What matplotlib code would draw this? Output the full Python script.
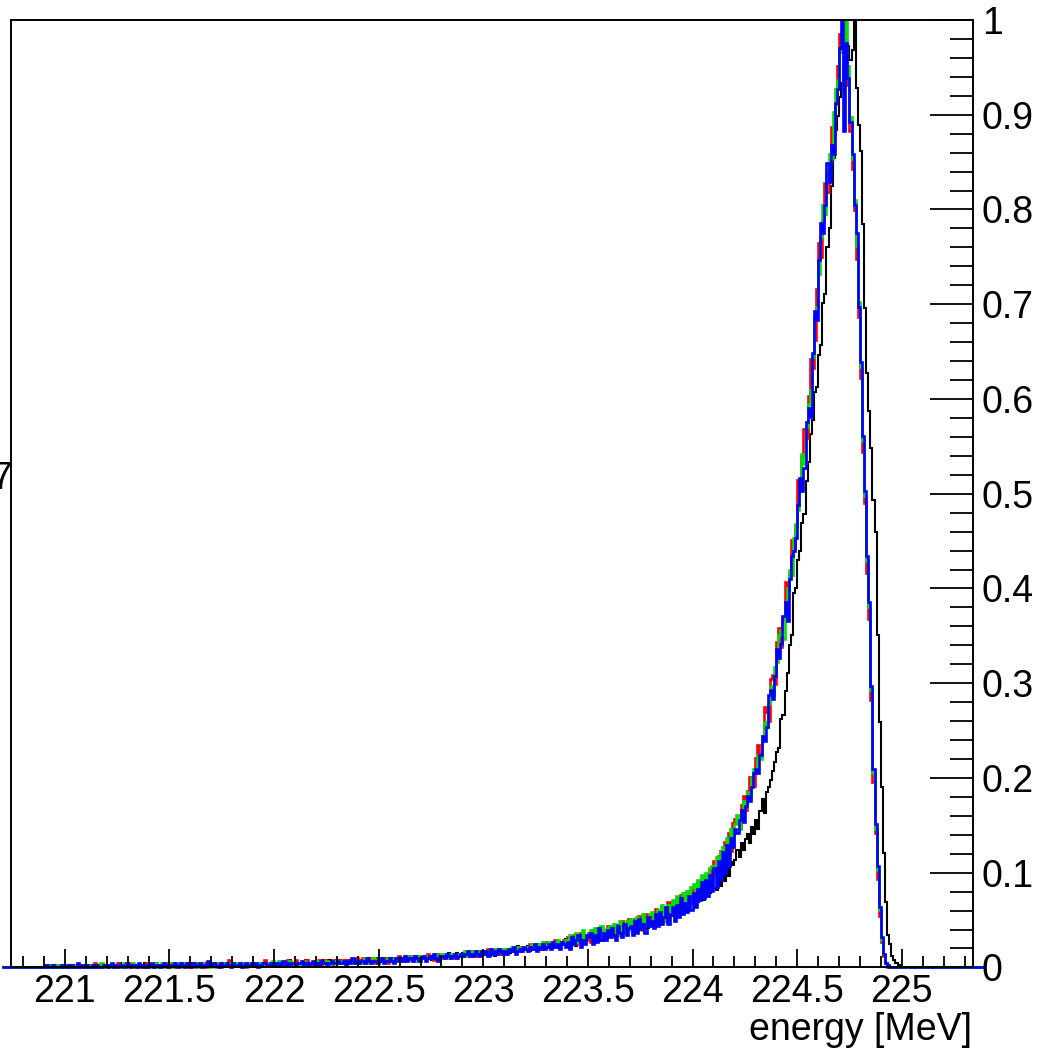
import numpy as np
import matplotlib
matplotlib.use("Agg")
import matplotlib.pyplot as plt
from matplotlib.ticker import MultipleLocator, FuncFormatter

plt.rcParams['font.family'] = ['Liberation Sans', 'DejaVu Sans']

# Histogram binning: 0.01 MeV bins, first filled bin starts at 220.90 MeV
bin_width = 0.01
first_edge = 220.90
hist_lo, hist_hi = 220.70, 225.40

# Raw bin counts per run (410 bins from 220.90 to 225.00 MeV)
counts_black = [
    0, 0, 1, 0, 0, 1, 0, 0, 0, 1,
    0, 0, 1, 0, 1, 0, 0, 1, 0, 0,
    1, 0, 1, 0, 0, 1, 0, 1, 0, 1,
    1, 0, 0, 1, 1, 0, 2, 0, 1, 0,
    0, 1, 1, 0, 1, 1, 0, 1, 2, 0,
    1, 0, 1, 2, 0, 1, 1, 0, 1, 1,
    2, 1, 0, 1, 1, 2, 0, 1, 1, 2,
    1, 0, 2, 1, 1, 0, 2, 1, 1, 1,
    0, 1, 2, 1, 1, 2, 0, 1, 2, 1,
    1, 2, 1, 0, 2, 1, 1, 2, 1, 1,
    2, 1, 1, 2, 1, 0, 2, 1, 2, 1,
    1, 2, 1, 2, 2, 1, 1, 3, 1, 2,
    2, 1, 2, 1, 2, 3, 1, 2, 2, 1,
    2, 2, 1, 3, 2, 2, 3, 1, 2, 3,
    2, 3, 2, 2, 3, 2, 3, 2, 3, 3,
    3, 2, 3, 3, 2, 4, 3, 3, 2, 4,
    3, 3, 4, 2, 4, 3, 3, 4, 3, 4,
    4, 3, 3, 5, 4, 3, 4, 5, 4, 4,
    4, 5, 4, 4, 5, 3, 5, 5, 4, 5,
    5, 4, 5, 6, 4, 5, 5, 6, 5, 5,
    6, 5, 6, 5, 7, 6, 5, 6, 7, 6,
    6, 7, 6, 6, 7, 5, 8, 7, 6, 7,
    7, 8, 6, 7, 8, 7, 9, 7, 8, 8,
    8, 9, 7, 8, 9, 8, 10, 9, 8, 10,
    9, 10, 9, 10, 11, 9, 10, 11, 10, 12,
    10, 12, 13, 10, 9, 13, 14, 10, 12, 14,
    12, 14, 15, 11, 13, 16, 12, 14, 16, 13,
    16, 13, 17, 14, 18, 16, 14, 18, 15, 19,
    17, 19, 15, 20, 18, 16, 21, 19, 17, 22,
    21, 18, 22, 19, 23, 20, 24, 22, 20, 25,
    22, 26, 23, 27, 24, 28, 25, 29, 26, 30,
    27, 31, 28, 33, 30, 29, 34, 36, 32, 37,
    34, 33, 38, 35, 40, 37, 42, 39, 45, 44,
    46, 50, 47, 53, 50, 55, 57, 53, 60, 57,
    63, 59, 67, 72, 66, 75, 77, 80, 84, 88,
    92, 94, 106, 108, 118, 126, 138, 142, 160, 162,
    174, 178, 190, 194, 208, 216, 228, 234, 246, 248,
    262, 266, 284, 288, 308, 316, 334, 346, 358, 364,
    372, 378, 386, 383, 394, 388, 392, 405, 376, 360,
    349, 318, 282, 254, 238, 222, 200, 186, 142, 105,
    77, 49, 28, 14, 10, 5, 3, 2, 1, 0,
]

counts_red = [
    1, 0, 0, 1, 0, 0, 1, 0, 0, 0,
    1, 0, 0, 0, 1, 0, 1, 0, 0, 1,
    0, 1, 0, 0, 2, 0, 1, 0, 0, 1,
    1, 0, 1, 0, 0, 2, 1, 0, 1, 1,
    0, 2, 1, 0, 1, 0, 1, 1, 0, 2,
    1, 1, 0, 2, 1, 1, 0, 1, 2, 1,
    0, 2, 1, 1, 0, 1, 2, 1, 1, 0,
    2, 1, 0, 2, 1, 1, 2, 0, 1, 2,
    1, 1, 2, 1, 0, 2, 1, 1, 3, 1,
    1, 2, 1, 1, 2, 1, 0, 2, 1, 2,
    2, 1, 2, 1, 1, 3, 1, 2, 1, 1,
    1, 2, 2, 1, 2, 2, 3, 1, 2, 1,
    3, 1, 2, 2, 1, 3, 2, 2, 1, 2,
    2, 3, 1, 2, 3, 2, 2, 1, 3, 2,
    2, 3, 3, 2, 3, 2, 3, 3, 2, 4,
    3, 2, 4, 3, 2, 3, 4, 2, 3, 3,
    4, 3, 3, 4, 2, 3, 4, 3, 3, 5,
    3, 4, 4, 3, 5, 3, 4, 4, 5, 4,
    5, 4, 4, 6, 4, 5, 3, 5, 6, 4,
    4, 6, 5, 4, 6, 5, 4, 6, 5, 5,
    6, 5, 6, 7, 5, 7, 6, 5, 7, 6,
    7, 6, 8, 6, 7, 6, 8, 7, 6, 8,
    6, 8, 7, 8, 7, 9, 8, 7, 9, 8,
    9, 8, 10, 8, 9, 10, 8, 10, 9, 11,
    10, 9, 11, 10, 12, 9, 11, 10, 12, 11,
    13, 9, 11, 14, 10, 12, 15, 11, 14, 12,
    15, 11, 16, 13, 15, 17, 12, 16, 13, 18,
    16, 18, 13, 18, 15, 14, 20, 15, 18, 21,
    19, 15, 21, 16, 22, 18, 16, 23, 19, 21,
    23, 19, 25, 20, 19, 26, 22, 20, 28, 23,
    27, 22, 30, 24, 31, 25, 32, 26, 33, 29,
    34, 30, 37, 31, 38, 35, 40, 36, 42, 38,
    46, 40, 48, 50, 44, 54, 47, 58, 50, 62,
    64, 62, 60, 70, 74, 68, 76, 82, 80, 78,
    90, 96, 92, 98, 112, 110, 106, 124, 126, 122,
    140, 146, 138, 150, 166, 162, 170, 184, 180, 190,
    210, 206, 220, 232, 228, 246, 262, 258, 270, 292,
    312, 306, 322, 338, 334, 346, 362, 358, 372, 388,
    402, 394, 408, 386, 380, 360, 344, 326, 305, 280,
    254, 222, 200, 170, 150, 115, 80, 58, 38, 22,
    11, 5, 2, 0, 0, 0, 0, 0, 0, 0,
]

counts_green = [
    0, 0, 1, 0, 0, 0, 1, 0, 1, 0,
    1, 0, 0, 1, 0, 1, 0, 0, 1, 0,
    0, 0, 1, 1, 0, 0, 1, 2, 0, 0,
    1, 1, 0, 0, 1, 1, 0, 1, 2, 0,
    1, 0, 2, 1, 0, 1, 1, 0, 1, 1,
    0, 1, 1, 2, 0, 1, 2, 1, 0, 1,
    2, 0, 1, 1, 2, 1, 0, 2, 1, 1,
    1, 1, 2, 0, 1, 2, 1, 1, 2, 0,
    2, 1, 0, 2, 1, 1, 2, 1, 1, 2,
    1, 1, 2, 1, 2, 0, 1, 2, 2, 1,
    1, 2, 1, 2, 1, 2, 2, 1, 1, 3,
    2, 1, 3, 2, 1, 2, 1, 3, 2, 1,
    2, 2, 1, 2, 3, 1, 2, 2, 2, 3,
    1, 3, 2, 2, 2, 3, 1, 2, 3, 2,
    3, 2, 3, 2, 3, 3, 2, 3, 2, 3,
    3, 3, 2, 4, 3, 2, 3, 4, 3, 3,
    3, 4, 3, 3, 4, 3, 4, 3, 4, 3,
    4, 4, 3, 5, 4, 4, 5, 3, 4, 5,
    4, 5, 5, 4, 5, 5, 4, 6, 4, 5,
    6, 5, 5, 4, 6, 6, 5, 5, 6, 5,
    6, 7, 5, 6, 7, 6, 6, 7, 6, 7,
    7, 6, 7, 7, 6, 8, 7, 7, 8, 7,
    8, 7, 8, 9, 7, 8, 9, 8, 8, 9,
    9, 8, 9, 10, 9, 8, 10, 9, 11, 9,
    10, 11, 10, 9, 11, 12, 10, 11, 10, 12,
    12, 14, 10, 12, 15, 11, 13, 16, 11, 14,
    14, 16, 12, 17, 13, 12, 18, 13, 16, 17,
    18, 14, 19, 15, 14, 20, 16, 15, 20, 16,
    21, 16, 19, 22, 17, 20, 23, 18, 21, 23,
    24, 20, 22, 25, 21, 27, 20, 25, 27, 23,
    29, 24, 31, 25, 29, 32, 27, 33, 28, 35,
    36, 30, 38, 32, 40, 34, 41, 35, 43, 44,
    44, 48, 41, 50, 52, 45, 56, 49, 60, 52,
    62, 66, 60, 64, 72, 70, 76, 74, 82, 86,
    86, 92, 90, 100, 106, 104, 114, 122, 118, 130,
    132, 144, 146, 142, 156, 164, 172, 170, 186, 192,
    198, 206, 222, 218, 234, 244, 250, 264, 282, 286,
    300, 316, 330, 326, 344, 352, 350, 370, 380, 384,
    396, 404, 382, 410, 390, 368, 350, 332, 312, 288,
    260, 228, 204, 176, 156, 120, 84, 60, 42, 25,
    12, 6, 2, 1, 0, 0, 0, 0, 0, 0,
]

counts_blue = [
    0, 1, 0, 0, 1, 0, 0, 0, 1, 0,
    0, 1, 0, 1, 0, 0, 2, 0, 1, 0,
    1, 0, 0, 1, 0, 1, 0, 0, 1, 1,
    0, 1, 2, 0, 1, 0, 1, 1, 0, 2,
    1, 0, 1, 1, 0, 2, 1, 0, 1, 0,
    1, 2, 0, 1, 1, 0, 1, 2, 1, 0,
    1, 1, 2, 0, 1, 2, 1, 0, 2, 1,
    0, 2, 1, 1, 2, 0, 1, 1, 3, 1,
    1, 2, 1, 0, 2, 1, 1, 2, 1, 0,
    2, 1, 1, 2, 0, 1, 2, 1, 1, 2,
    1, 2, 0, 1, 2, 2, 1, 1, 2, 1,
    2, 1, 2, 1, 3, 1, 2, 1, 2, 2,
    1, 2, 2, 3, 1, 2, 1, 2, 3, 1,
    2, 1, 3, 2, 2, 1, 2, 3, 2, 2,
    3, 2, 2, 3, 1, 3, 2, 4, 2, 3,
    2, 3, 3, 2, 4, 3, 2, 3, 3, 2,
    3, 4, 2, 3, 3, 4, 3, 2, 4, 3,
    4, 3, 5, 3, 4, 4, 3, 5, 4, 3,
    4, 5, 3, 4, 5, 4, 6, 4, 3, 5,
    5, 4, 6, 5, 4, 5, 6, 4, 5, 6,
    5, 6, 7, 5, 6, 5, 7, 6, 5, 7,
    6, 7, 5, 8, 6, 7, 6, 8, 7, 6,
    7, 6, 8, 7, 9, 6, 7, 8, 7, 9,
    8, 7, 9, 8, 10, 7, 9, 8, 10, 8,
    9, 10, 8, 11, 9, 10, 8, 11, 10, 9,
    11, 8, 13, 10, 12, 14, 9, 12, 10, 14,
    13, 15, 10, 14, 11, 17, 12, 15, 12, 16,
    13, 17, 14, 12, 18, 15, 13, 19, 14, 17,
    18, 14, 20, 15, 21, 17, 19, 15, 22, 18,
    20, 17, 23, 18, 24, 19, 22, 26, 19, 23,
    26, 20, 27, 22, 30, 23, 28, 24, 31, 25,
    32, 26, 34, 29, 37, 30, 38, 31, 40, 33,
    43, 35, 46, 38, 50, 41, 53, 44, 56, 52,
    60, 58, 64, 68, 63, 70, 74, 72, 78, 84,
    86, 84, 92, 100, 98, 104, 118, 120, 116, 126,
    138, 134, 140, 152, 158, 150, 168, 178, 180, 186,
    200, 212, 206, 216, 236, 242, 238, 266, 284, 280,
    306, 322, 318, 330, 348, 340, 356, 352, 374, 380,
    398, 410, 362, 400, 385, 366, 352, 330, 318, 286,
    262, 230, 206, 178, 158, 122, 86, 62, 44, 26,
    13, 6, 2, 1, 0, 0, 0, 0, 0, 0,
]

series = [
    (counts_black, "black", 1.5),
    (counts_red, "#ff0000", 1.9),
    (counts_green, "#00e000", 1.9),
    (counts_blue, "#0000ff", 1.9),
]

x_major = [221, 221.5, 222, 222.5, 223, 223.5, 224, 224.5, 225]
y_major = [0, 0.1, 0.2, 0.3, 0.4, 0.5, 0.6, 0.7, 0.8, 0.9, 1]

fig = plt.figure(figsize=(10.45, 10.51), dpi=100)
ax = fig.add_axes([0.011, 0.0795, 0.92, 0.9015])

n_left = int(round((first_edge - hist_lo) / bin_width))
for counts, color, lw in series:
    c = np.asarray(counts, dtype=float)
    n_right = int(round((hist_hi - first_edge) / bin_width)) - len(c)
    full = np.concatenate([np.zeros(n_left), c, np.zeros(n_right)])
    full = full / full.max()
    edges = hist_lo + bin_width * np.arange(len(full) + 1)
    ax.stairs(full, edges, color=color, linewidth=lw, baseline=0,
              clip_on=False)

ax.set_xlim(220.745, 225.34)
ax.set_ylim(0, 1)

for sp in ax.spines.values():
    sp.set_linewidth(1.4)
    sp.set_color("black")

ax.xaxis.set_major_locator(plt.FixedLocator(x_major))
ax.xaxis.set_minor_locator(MultipleLocator(0.1))
ax.yaxis.set_major_locator(plt.FixedLocator(y_major))
ax.yaxis.set_minor_locator(MultipleLocator(0.02))
fmt = FuncFormatter(lambda v, p: "%g" % v)
ax.xaxis.set_major_formatter(fmt)
ax.yaxis.set_major_formatter(fmt)

ax.tick_params(axis="x", which="both", direction="in", bottom=True,
               top=False, width=1.3, labelsize=27, pad=5)
ax.tick_params(axis="x", which="major", length=13)
ax.tick_params(axis="x", which="minor", length=8)
ax.tick_params(axis="y", which="both", direction="in", left=False,
               right=True, labelleft=False, labelright=True, width=1.3,
               labelsize=27, pad=6.5)
ax.tick_params(axis="y", which="major", length=31)
ax.tick_params(axis="y", which="minor", length=16.5)

fig.text(972 / 1045, 1 - 1030 / 1051, "energy [MeV]", ha="right",
         va="center", fontsize=27)
# Axis title runs off the left edge of the canvas; only its last glyph shows
fig.text(12 / 1045, 1 - 479 / 1051, "7", ha="right", va="center",
         fontsize=27)

fig.savefig("out.png", dpi=100)
